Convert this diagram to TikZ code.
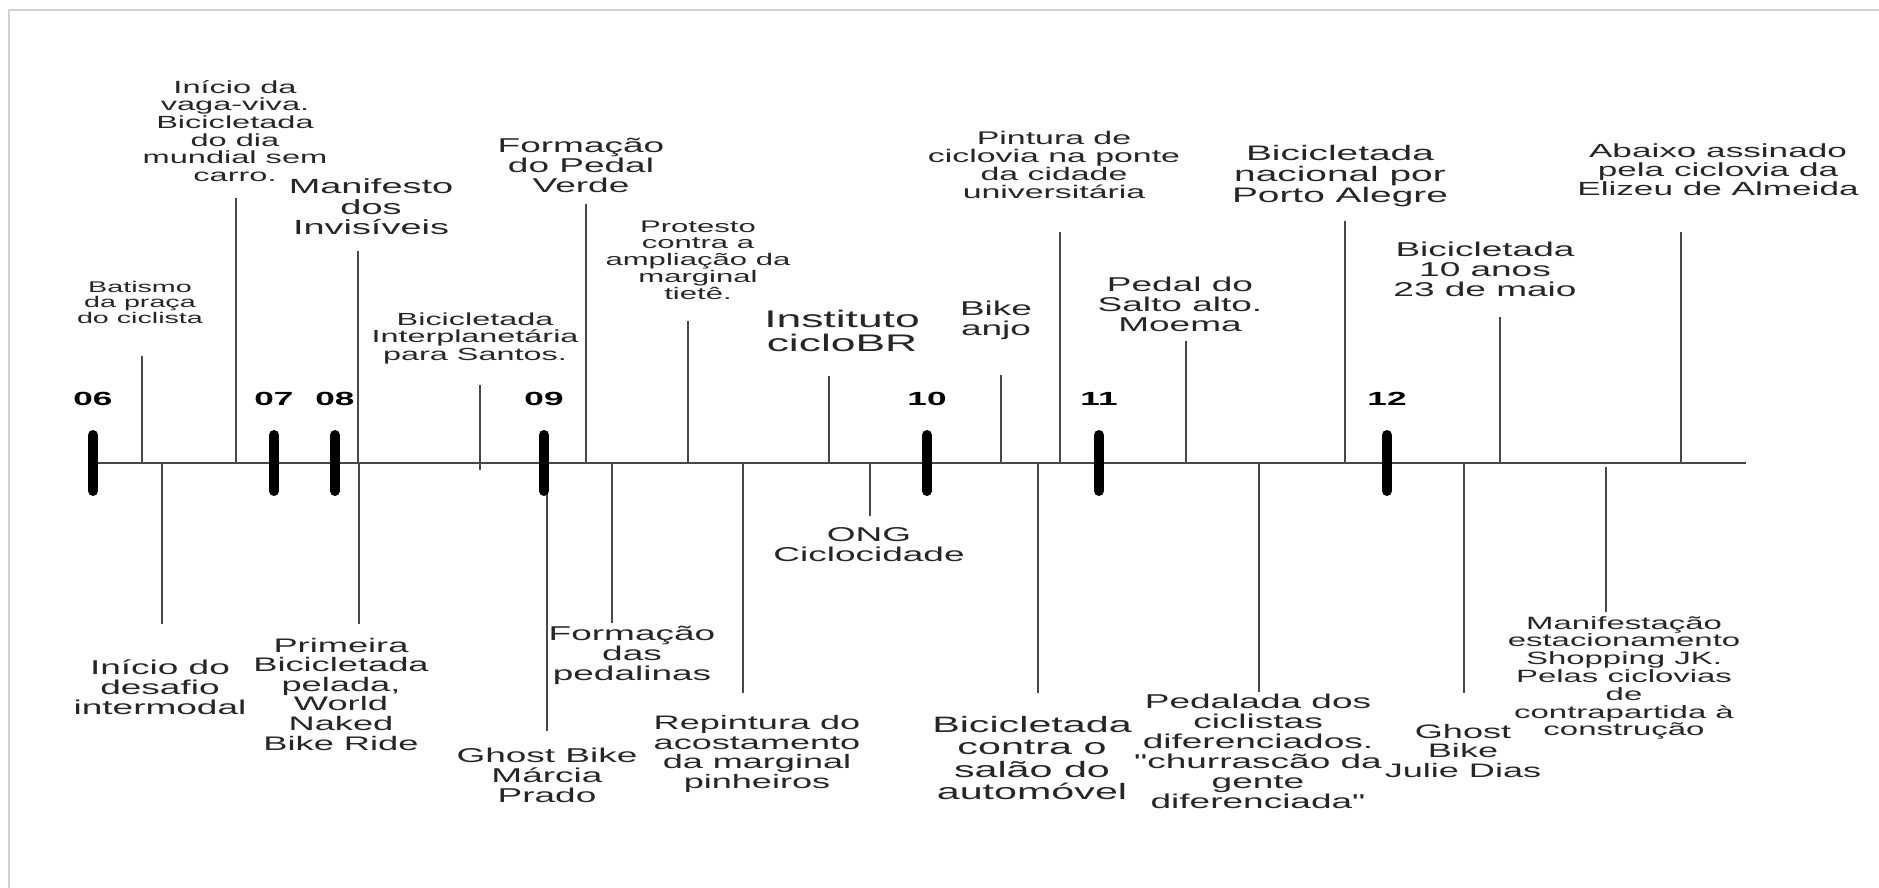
\documentclass[tikz,border=0pt]{standalone}
\usepackage{fontspec}
\usepackage{tikz}
\usetikzlibrary{positioning}
\newfontfamily\tlfont[FakeStretch=1.85]{Liberation Sans}
\newcommand{\evsize}[1]{\fontsize{#1}{#1}\selectfont}
\tikzset{
  evtext/.style={
    align=center, inner sep=0pt, text=black!85,
    font=\tlfont\evsize{#1}
  },
  evtext/.default=20,
  evline/.style={draw=black!72, line width=1.6pt},
  yeartick/.style={draw=black, line width=10pt, line cap=round},
  yearlabel/.style={
    inner sep=0pt, text=black, font=\tlfont\bfseries\evsize{19}
  },
  frameline/.style={draw=black!18, line width=2pt},
}

\begin{document}
\begin{tikzpicture}[x=1pt, y=-1pt]
  \useasboundingbox (0,0) rectangle (1879,888);
  % Frame
  \draw[frameline] (9,888) -- (9,10) -- (1879,10);

  % Axis
  \coordinate (start) at (93,463);
  \coordinate (end) at (1746,463);
  \draw[evline] (start) -- (end);

  % Events above the axis
  \node[evtext=15.5] (batismo) at (140,302) {Batismo\\da praça\\do ciclista};
  \coordinate (batismoT) at (142,356);
  \draw[evline] (batismoT) -- (batismoT |- start);

  \node[evtext=17.6] (vagaviva) at (235,131)
    {Início da\\vaga-viva.\\Bicicletada\\do dia\\mundial sem\\carro.};
  \coordinate (vagavivaT) at (236,198);
  \draw[evline] (vagavivaT) -- (vagavivaT |- start);

  \node[evtext=20.5] (manifesto) at (371,207) {Manifesto\\dos\\Invisíveis};
  \coordinate (manifestoT) at (358,251);
  \draw[evline] (manifestoT) -- (manifestoT |- start);

  \node[evtext=17.5] (santos) at (475,338)
    {Bicicletada\\Interplanetária\\para Santos.};
  \coordinate (santosT) at (480,385);
  \coordinate (santosB) at (480,470);
  \draw[evline] (santosT) -- (santosB);

  \node[evtext=20] (pedalverde) at (581,165) {Formação\\do Pedal\\Verde};
  \coordinate (pedalverdeT) at (586,204);
  \draw[evline] (pedalverdeT) -- (pedalverdeT |- start);

  \node[evtext=16.8] (tiete) at (698,260)
    {Protesto\\contra a\\ampliação da\\marginal\\tietê.};
  \coordinate (tieteT) at (688,321);
  \draw[evline] (tieteT) -- (tieteT |- start);

  \node[evtext=24] (ciclobr) at (842,331) {Instituto\\cicloBR};
  \coordinate (ciclobrT) at (829,376);
  \draw[evline] (ciclobrT) -- (ciclobrT |- start);

  \node[evtext=20] (bikeanjo) at (996,320) {Bike\\anjo};
  \coordinate (bikeanjoT) at (1001,375);
  \draw[evline] (bikeanjoT) -- (bikeanjoT |- start);

  \node[evtext=18.3] (ponte) at (1054,165)
    {Pintura de\\ciclovia na ponte\\da cidade\\universitária};
  \coordinate (ponteT) at (1060,232);
  \draw[evline] (ponteT) -- (ponteT |- start);

  \node[evtext=20] (salto) at (1180,304) {Pedal do\\Salto alto.\\Moema};
  \coordinate (saltoT) at (1186,341);
  \draw[evline] (saltoT) -- (saltoT |- start);

  \node[evtext=21] (portoalegre) at (1340,176)
    {Bicicletada\\nacional por\\Porto Alegre};
  \coordinate (portoalegreT) at (1345,221);
  \draw[evline] (portoalegreT) -- (portoalegreT |- start);

  \node[evtext=20] (dezanos) at (1485,269) {Bicicletada\\10 anos\\23 de maio};
  \coordinate (dezanosT) at (1500,317);
  \draw[evline] (dezanosT) -- (dezanosT |- start);

  \node[evtext=19] (elizeu) at (1718,170)
    {Abaixo assinado\\pela ciclovia da\\Elizeu de Almeida};
  \coordinate (elizeuT) at (1681,232);
  \draw[evline] (elizeuT) -- (elizeuT |- start);

  % Events below the axis
  \node[evtext=20] (intermodal) at (160,687) {Início do\\desafio\\intermodal};
  \coordinate (intermodalB) at (162,624);
  \draw[evline] (intermodalB) -- (intermodalB |- start);

  \node[evtext=19.6] (naked) at (341,694)
    {Primeira\\Bicicletada\\pelada,\\World\\Naked\\Bike Ride};
  \coordinate (nakedB) at (359,624);
  \draw[evline] (nakedB) -- (nakedB |- start);

  \node[evtext=20] (marcia) at (547,775) {Ghost Bike\\Márcia\\Prado};
  \coordinate (marciaB) at (547,731);
  \draw[evline] (marciaB) -- (marciaB |- start);

  \node[evtext=20] (pedalinas) at (632,655) {Formação\\das\\pedalinas};
  \coordinate (pedalinasB) at (612,623);
  \draw[evline] (pedalinasB) -- (pedalinasB |- start);

  \node[evtext=19.5] (pinheiros) at (757,754)
    {Repintura do\\acostamento\\da marginal\\pinheiros};
  \coordinate (pinheirosB) at (743,693);
  \draw[evline] (pinheirosB) -- (pinheirosB |- start);

  \node[evtext=20] (ciclocidade) at (869,545) {ONG\\Ciclocidade};
  \coordinate (ciclocidadeB) at (870,516);
  \draw[evline] (ciclocidadeB) -- (ciclocidadeB |- start);

  \node[evtext=22.3] (salao) at (1032,758)
    {Bicicletada\\contra o\\salão do\\automóvel};
  \coordinate (salaoB) at (1038,693);
  \draw[evline] (salaoB) -- (salaoB |- start);

  \node[evtext=20] (diferenciada) at (1258,751)
    {Pedalada dos\\ciclistas\\diferenciados.\\"churrascão da\\gente\\diferenciada"};
  \coordinate (diferenciadaB) at (1259,692);
  \draw[evline] (diferenciadaB) -- (diferenciadaB |- start);

  \node[evtext=19.5] (julie) at (1463,751) {Ghost\\Bike\\Julie Dias};
  \coordinate (julieB) at (1464,693);
  \draw[evline] (julieB) -- (julieB |- start);

  \node[evtext=17.8] (shoppingjk) at (1624,678)
    {Manifestação\\estacionamento\\Shopping JK.\\Pelas ciclovias\\de\\contrapartida à\\construção};
  \coordinate (shoppingjkT) at (1606,467);
  \coordinate (shoppingjkB) at (1606,612);
  \draw[evline] (shoppingjkT) -- (shoppingjkB);

  % Years
  \foreach \yr/\xx in {06/93, 07/274, 08/335, 09/544, 10/927, 11/1099, 12/1387} {
    \coordinate (t\yr) at (\xx,463);
    \draw[yeartick] ([yshift=28pt]t\yr) -- ([yshift=-28pt]t\yr);
    \node[yearlabel] (y\yr) at (\xx,399) {\yr};
  }
\end{tikzpicture}
\end{document}
